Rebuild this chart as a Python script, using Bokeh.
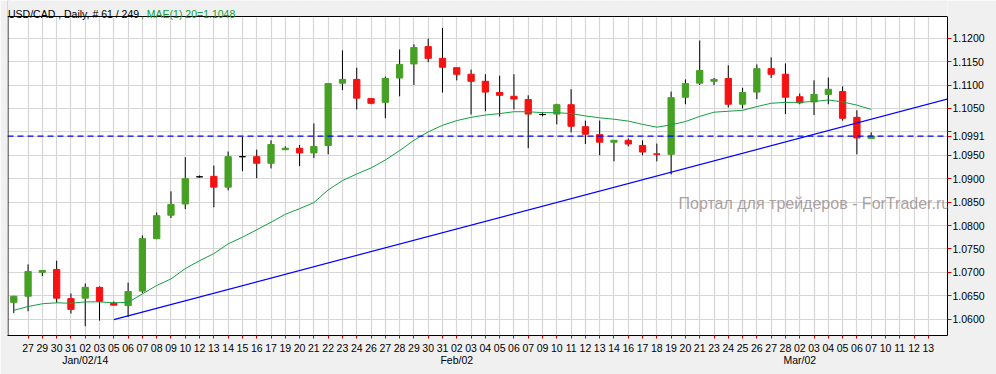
from bokeh.plotting import figure
from bokeh.models import (FixedTicker, NumeralTickFormatter, Span, Label, Range1d,
                          ColumnDataSource, BoxAnnotation)
from bokeh.embed import file_html
from bokeh.resources import INLINE

# ---------------- data ----------------
day_labels = ["27", "29", "30", "31", "02", "03", "05", "06", "07", "08", "09", "10", "12", "13",
              "14", "15", "16", "17", "19", "20", "21", "22", "23", "24", "26", "27", "28", "29",
              "30", "31", "02", "03", "04", "05", "06", "07", "09", "10", "11", "12", "13", "14",
              "16", "17", "18", "19", "20", "21", "23", "24", "25", "26", "27", "28", "02", "03",
              "04", "05", "06", "07", "10", "11", "12", "13"]
month_labels = ["Jan/02/14", "Feb/02", "Mar/02"]
month_slots = [5, 31, 55]

opens = [1.0636, 1.0649, 1.0700, 1.0706, 1.0644, 1.0645, 1.0668, 1.0634, 1.0629, 1.0660,
         1.0772, 1.0822, 1.0846, 1.0904, 1.0905, 1.0882, 1.0947, 1.0947, 1.0933, 1.0962,
         1.0965, 1.0955, 1.0971, 1.1104, 1.1112, 1.1071, 1.1063, 1.1115, 1.1145, 1.1182,
         1.1157, 1.1137, 1.1123, 1.1108, 1.1084, 1.1076, 1.1069, 1.1037, 1.1038, 1.1058,
         1.1011, 1.0994, 1.0978, 1.0982, 1.0971, 1.0953, 1.0952, 1.1074, 1.1104, 1.1108,
         1.1114, 1.1059, 1.1085, 1.1135, 1.1123, 1.1075, 1.1064, 1.1080, 1.1086, 1.1031,
         1.0986]
highs = [1.0650, 1.0717, 1.0705, 1.0725, 1.0655, 1.0676, 1.0670, 1.0638, 1.0678, 1.0779,
         1.0828, 1.0873, 1.0946, 1.0907, 1.0928, 1.0958, 1.0990, 1.0962, 1.0982, 1.0969,
         1.0972, 1.1018, 1.1104, 1.1174, 1.1137, 1.1071, 1.1118, 1.1176, 1.1187, 1.1199,
         1.1222, 1.1137, 1.1133, 1.1123, 1.1120, 1.1123, 1.1078, 1.1042, 1.1060, 1.1091,
         1.1024, 1.1024, 1.0982, 1.0986, 1.0982, 1.0975, 1.1086, 1.1112, 1.1195, 1.1115,
         1.1142, 1.1094, 1.1144, 1.1159, 1.1146, 1.1082, 1.1110, 1.1116, 1.1097, 1.1046,
         1.0999]
lows = [1.0613, 1.0617, 1.0692, 1.0635, 1.0612, 1.0585, 1.0597, 1.0630, 1.0605, 1.0656,
        1.0771, 1.0816, 1.0835, 1.0902, 1.0839, 1.0875, 1.0916, 1.0901, 1.0922, 1.0961,
        1.0927, 1.0944, 1.0952, 1.1089, 1.1048, 1.1059, 1.1029, 1.1076, 1.1100, 1.1149,
        1.1084, 1.1110, 1.1037, 1.1044, 1.1033, 1.1048, 1.0965, 1.1033, 1.1016, 1.0999,
        1.0974, 1.0950, 1.0937, 1.0969, 1.0950, 1.0937, 1.0909, 1.1059, 1.1100, 1.1100,
        1.1052, 1.1050, 1.1070, 1.1115, 1.1038, 1.1059, 1.1036, 1.1059, 1.1024, 1.0952,
        1.0985]
closes = [1.0649, 1.0702, 1.0704, 1.0645, 1.0621, 1.0668, 1.0638, 1.0630, 1.0659, 1.0772,
          1.0821, 1.0845, 1.0900, 1.0904, 1.0882, 1.0947, 1.0947, 1.0933, 1.0973, 1.0965,
          1.0955, 1.0969, 1.1103, 1.1112, 1.1072, 1.1061, 1.1114, 1.1144, 1.1180, 1.1157,
          1.1138, 1.1123, 1.1108, 1.1085, 1.1078, 1.1070, 1.1038, 1.1037, 1.1058, 1.1012,
          1.0995, 1.0978, 1.0982, 1.0974, 1.0957, 1.0952, 1.1073, 1.1103, 1.1131, 1.1112,
          1.1059, 1.1084, 1.1135, 1.1123, 1.1074, 1.1062, 1.1080, 1.1091, 1.1029, 1.0987,
          1.0991]
ma20 = [1.0619, 1.0627, 1.0633, 1.0635, 1.0634, 1.0637, 1.0637, 1.0635, 1.0636, 1.0654,
        1.0672, 1.0686, 1.0708, 1.0725, 1.0740, 1.0761, 1.0775, 1.0791, 1.0807, 1.0824,
        1.0836, 1.0849, 1.0876, 1.0896, 1.0910, 1.0923, 1.0940, 1.0960, 1.0982, 1.1000,
        1.1014, 1.1024, 1.1031, 1.1036, 1.1039, 1.1043, 1.1043, 1.1041, 1.1041, 1.1039,
        1.1034, 1.1030, 1.1027, 1.1023, 1.1016, 1.1010, 1.1015, 1.1022, 1.1033, 1.1042,
        1.1044, 1.1046, 1.1054, 1.1061, 1.1063, 1.1063, 1.1065, 1.1068, 1.1064, 1.1057,
        1.1048]
trend_slots = [7, 46]
trend_values = [1.0599, 1.0914]
last_price = 1.0991
price_ticks = [1.0600, 1.0650, 1.0700, 1.0750, 1.0800, 1.0850, 1.0900,
               1.0950, 1.1000, 1.1050, 1.1100, 1.1150, 1.1200]
header_main = "USD/CAD , Daily, # 61 / 249"
header_ma = ", MAE(1) 20=1.1048"
watermark = "Портал для трейдеров - ForTrader.ru"

# ---------------- layout ----------------
W, H = 996, 374
LEFT, RIGHT, BOTTOM = 7, 49, 39
PLOT_TOP = 16                      # top edge of the white plotting area (page px)
X0, X1 = -0.44, 65.34
Y0 = 1.05652
PX_Y = 4683.5                      # pixels per price unit
FRAME_W = W - LEFT - RIGHT
FRAME_H = H - BOTTOM
Y1 = Y0 + FRAME_H / PX_Y
PX_X = FRAME_W / (X1 - X0)


def xd(page_x):
    return X0 + (page_x - LEFT) / PX_X


def yd(page_y):
    return Y1 - page_y / PX_Y


FONT = "Liberation Sans"
GREEN = "#46A024"
RED = "#F41212"
GRAY = "#F0F0F0"

p = figure(width=W, height=H, output_backend="svg", toolbar_location=None,
           y_axis_location="right", x_range=Range1d(X0, X1), y_range=Range1d(Y0, Y1),
           min_border_left=LEFT, min_border_right=RIGHT, min_border_top=0,
           min_border_bottom=BOTTOM)
p.border_fill_color = GRAY
p.background_fill_color = "white"
p.outline_line_color = None

# axes (month names as a second line under the first day of each month)
overrides = {i + 1: lbl for i, lbl in enumerate(day_labels)}
for s, m in zip(month_slots, month_labels):
    overrides[s] = overrides[s] + "\n" + m
p.xaxis.ticker = FixedTicker(ticks=list(range(1, len(day_labels) + 1)))
p.xaxis.major_label_overrides = overrides
p.yaxis.ticker = FixedTicker(ticks=price_ticks + [last_price])
p.yaxis.formatter = NumeralTickFormatter(format="0.0000")
p.yaxis.major_label_overrides = {1.1000: "", last_price: f"{last_price:.4f}"}
p.yaxis.bounds = (Y0, yd(PLOT_TOP))
for ax in (p.xaxis[0], p.yaxis[0]):
    ax.axis_line_color = "black"
    ax.major_tick_line_color = "#E00000"
    ax.major_tick_in = 0
    ax.minor_tick_line_color = None
    ax.major_label_text_font = FONT
    ax.major_label_text_font_size = "10.5px"
    ax.major_label_text_color = "black"
    ax.major_label_text_line_height = 1.0
p.xaxis.major_tick_out = 3
p.xaxis.major_label_standoff = 3
p.yaxis.major_tick_out = 4
p.yaxis.major_label_standoff = 1

p.xgrid.grid_line_color = "#D6D6D6"
p.ygrid.grid_line_color = "#D6D6D6"
p.xgrid.grid_line_width = 1.2
p.ygrid.grid_line_width = 1.2

# candles
slots = list(range(len(opens)))
colors = [GREEN if c > o else (RED if c < o else "black") for o, c in zip(opens, closes)]
src = ColumnDataSource(dict(
    x=slots, o=opens, h=highs, l=lows, c=closes,
    top=[max(o, c) for o, c in zip(opens, closes)],
    bot=[min(o, c) for o, c in zip(opens, closes)],
    color=colors))
p.segment(x0="x", y0="l", x1="x", y1="h", source=src, line_color="black", line_width=1)
p.vbar(x="x", width=0.44, top="top", bottom="bot", source=src,
       fill_color="color", line_color="color", line_width=1)

# moving average
p.line(slots, ma20, line_color="#14A040", line_width=1)

# trend line (extended to the right edge)
slope = (trend_values[1] - trend_values[0]) / (trend_slots[1] - trend_slots[0])
p.line([trend_slots[0], X1 + 1],
       [trend_values[0], trend_values[0] + slope * (X1 + 1 - trend_slots[0])],
       line_color="#0000FF", line_width=1.2)

# last price dashed line
p.add_layout(Span(location=last_price, dimension="width", line_color="#0000FF",
                  line_dash="6 4", line_width=1.2))

# plotting-area left border, header strip and top border
p.add_layout(Span(location=xd(LEFT + 0.5), dimension="height", line_color="black",
                  line_width=1))
p.add_layout(BoxAnnotation(bottom=yd(PLOT_TOP), top=Y1 + 1, left=X0 - 1, right=X1 + 1,
                           fill_color=GRAY, fill_alpha=1, line_color=None))
p.add_layout(Span(location=yd(PLOT_TOP), dimension="width", line_color="black",
                  line_width=1))

# texts
p.add_layout(Label(x=xd(7.5), y=yd(13), text=header_main, text_font=FONT,
                   text_font_size="10.5px", text_color="black",
                   text_align="left", text_baseline="alphabetic"))
p.add_layout(Label(x=xd(140.5), y=yd(13), text=header_ma, text_font=FONT,
                   text_font_size="10.5px", text_color="#11A030",
                   text_align="left", text_baseline="alphabetic"))
p.add_layout(Label(x=xd(678), y=yd(203), text=watermark, text_font=FONT,
                   text_font_size="16px", text_color="#9C8E8E", text_alpha=0.85,
                   text_align="left", text_baseline="alphabetic"))

open("out.html", "w").write(file_html(p, INLINE))
